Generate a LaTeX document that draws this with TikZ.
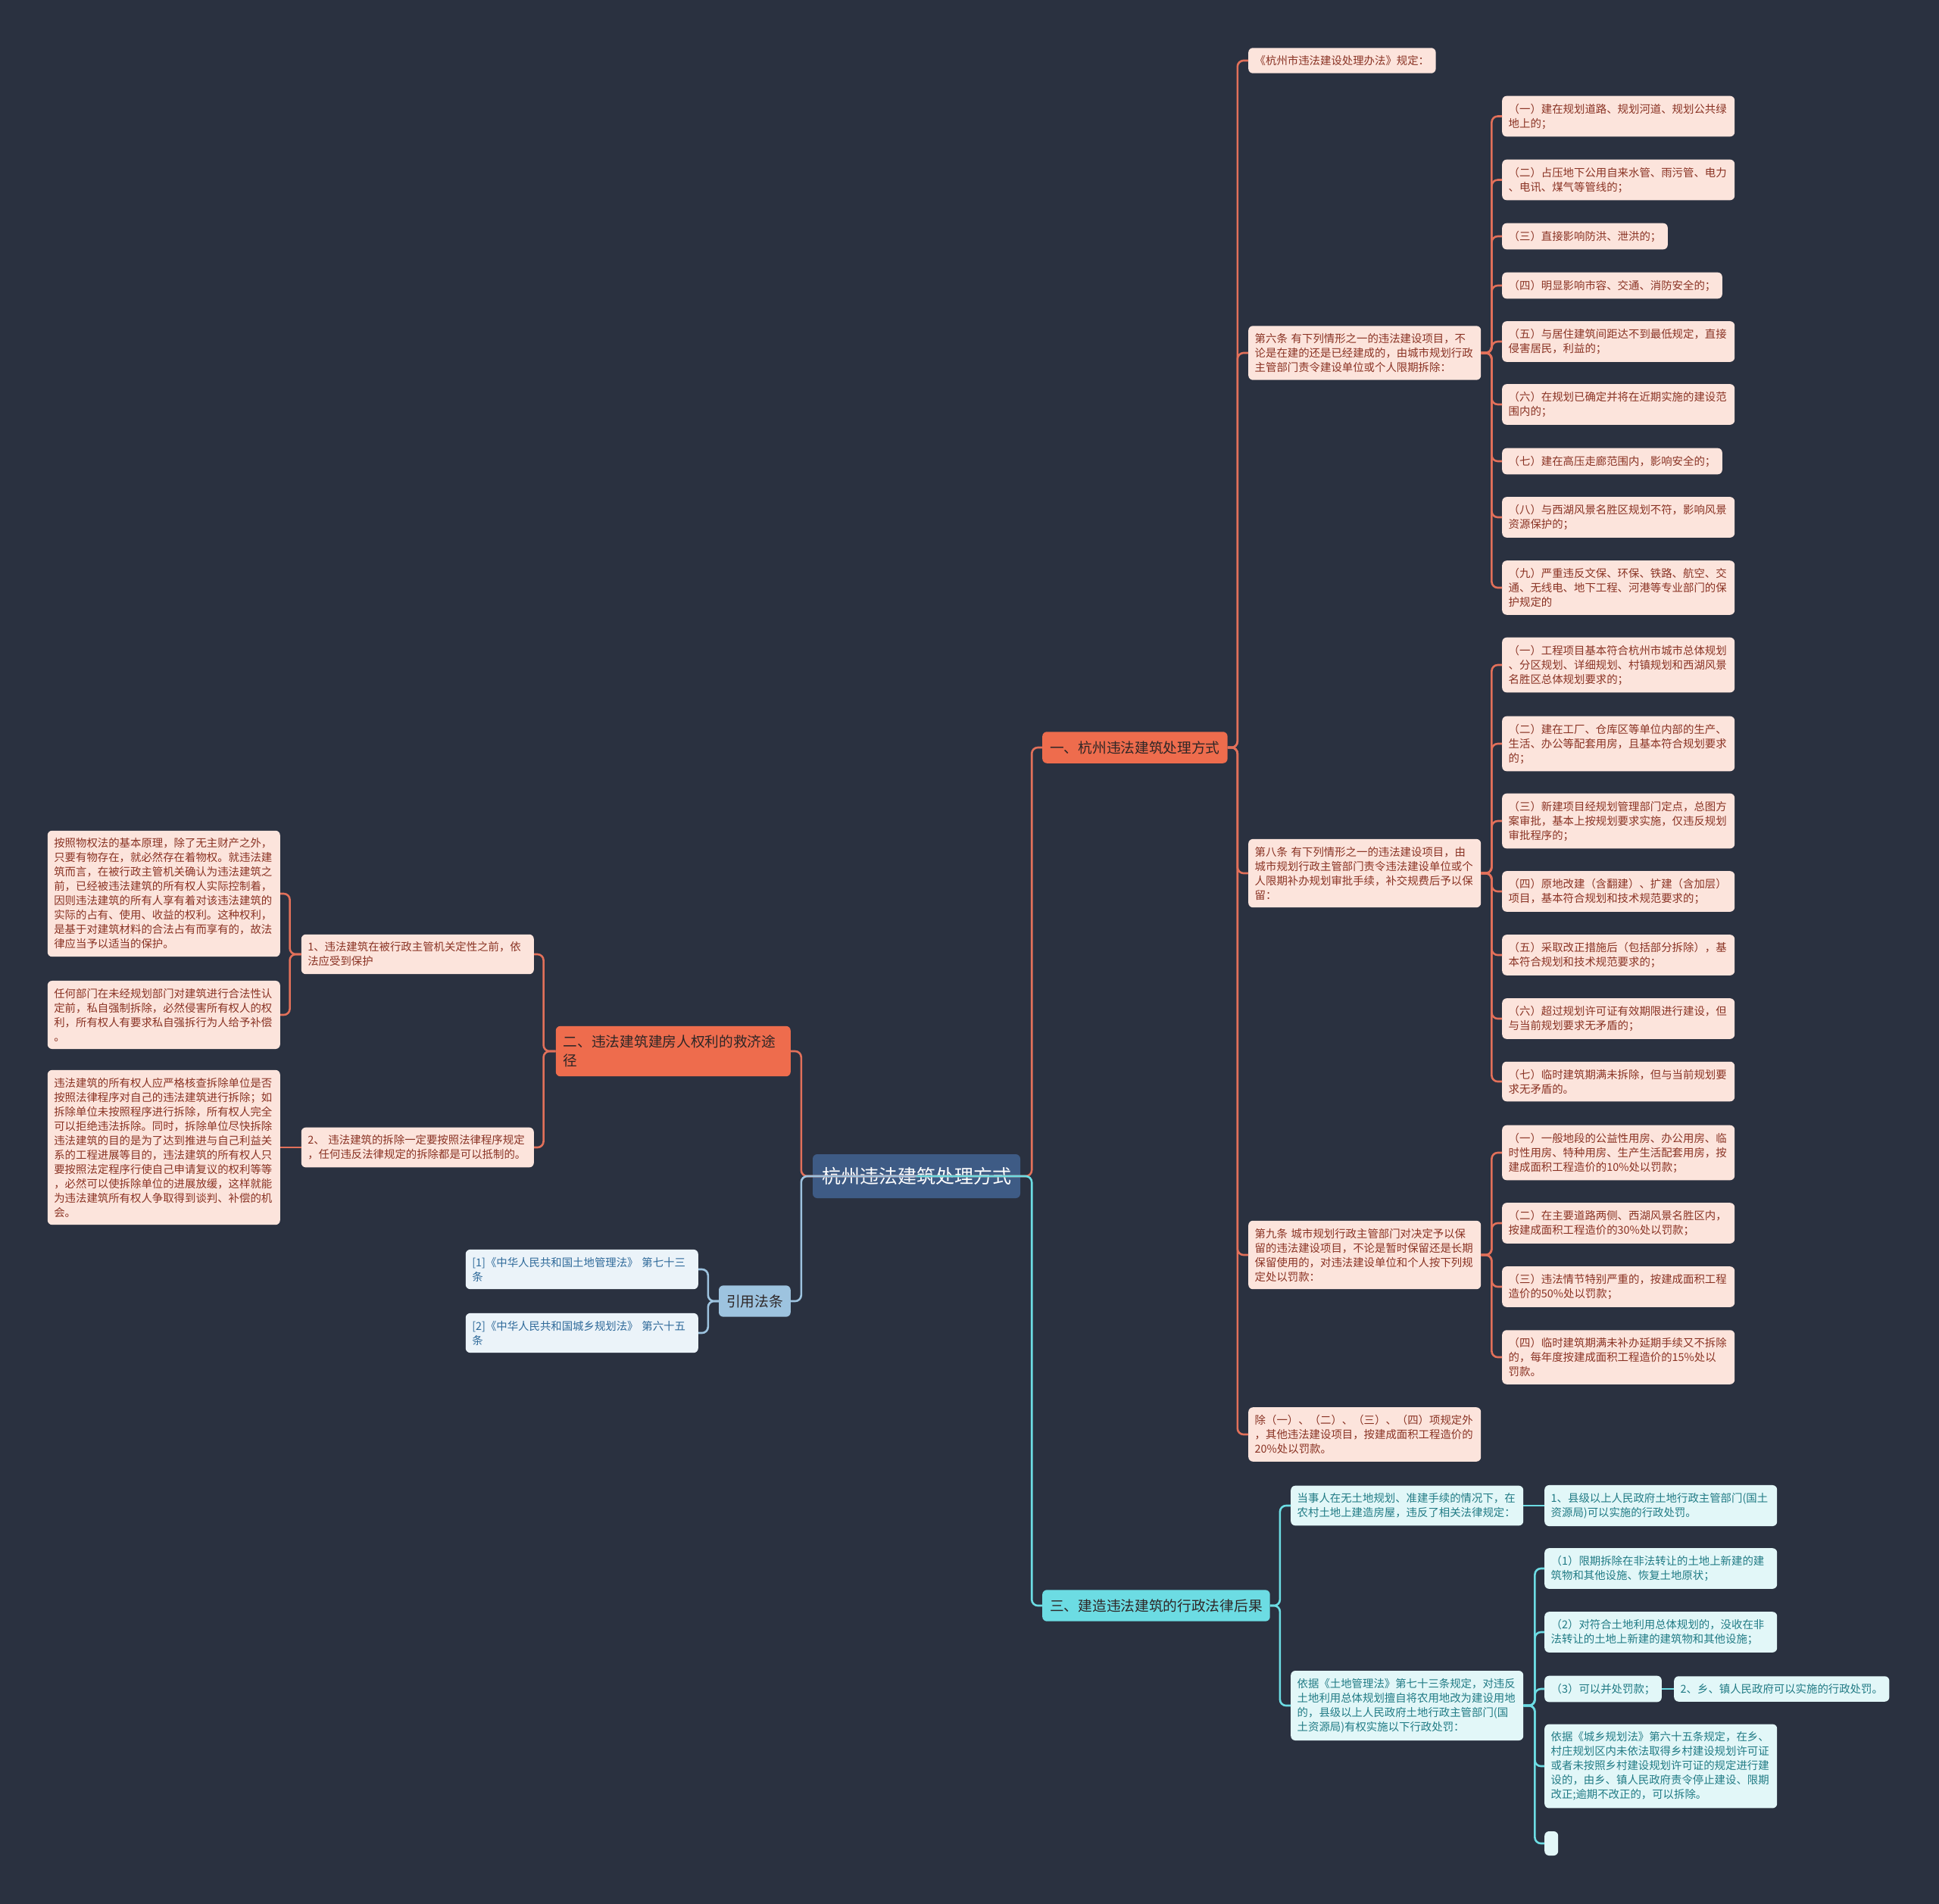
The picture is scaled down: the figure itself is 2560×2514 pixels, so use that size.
\documentclass[tikz,border=0pt]{standalone}
\usepackage{fontspec}
\setmainfont{Noto Sans CJK SC}
\definecolor{night}{HTML}{2A3140}
\definecolor{slate}{HTML}{3E5B85}
\definecolor{coral}{HTML}{EE6C4D}
\definecolor{blush}{HTML}{FCE4DC}
\definecolor{rust}{HTML}{8A3324}
\definecolor{ember}{HTML}{E2705A}
\definecolor{aqua}{HTML}{6CDCE3}
\definecolor{frost}{HTML}{E2F7F8}
\definecolor{lagoon}{HTML}{217B85}
\definecolor{sky}{HTML}{9DC3DF}
\definecolor{mist}{HTML}{EBF3F9}
\definecolor{ocean}{HTML}{2F6A9A}
\definecolor{soot}{HTML}{2E2626}

\begin{document}
\begin{tikzpicture}[x=1pt,y=-1pt,
  box/.style={rounded corners=6pt,inner xsep=8.5pt,inner ysep=10pt,align=left,font=\fontsize{14.4}{19}\selectfont},
  head/.style={rounded corners=6pt,inner xsep=10pt,inner ysep=12pt,align=left,text=soot,font=\fontsize{18.7}{25}\selectfont},
  wide/.style={text width=290pt},
  oleaf/.style={box,fill=blush,text=rust},
  cleaf/.style={box,fill=frost,text=lagoon},
  bleaf/.style={box,fill=mist,text=ocean},
  oline/.style={draw=ember,line width=2.6pt,rounded corners=8pt},
  cline/.style={draw=aqua,line width=2.6pt,rounded corners=8pt},
  bline/.style={draw=sky,line width=2.6pt,rounded corners=8pt}]
  \fill[night] (0,0) rectangle (2560,2514);

  % centre and main branches
  \node[fill=slate,text=white,rounded corners=6pt,inner xsep=12pt,minimum height=58pt,font=\fontsize{25}{30}\selectfont] (root) at (1210,1553) {杭州违法建筑处理方式};
  \node[head,fill=coral,anchor=west] (one) at (1376,987) {一、杭州违法建筑处理方式};
  \node[head,fill=aqua,anchor=west] (three) at (1376,2120) {三、建造违法建筑的行政法律后果};
  \node[head,fill=coral,anchor=east,text width=290pt] (two) at (1044,1388) {二、违法建筑建房人权利的救济途\\径};
  \node[head,fill=sky,anchor=east] (cite) at (1044,1718) {引用法条};

  % branch one
  \node[oleaf,anchor=west] (law) at (1648,80) {《杭州市违法建设处理办法》规定：};
  \node[oleaf,wide,anchor=west] (art6) at (1648,466) {第六条~有下列情形之一的违法建设项目，不\\论是在建的还是已经建成的，由城市规划行政\\主管部门责令建设单位或个人限期拆除：};
  \node[oleaf,wide,anchor=west] (art8) at (1648,1153) {第八条~有下列情形之一的违法建设项目，由\\城市规划行政主管部门责令违法建设单位或个\\人限期补办规划审批手续，补交规费后予以保\\留：};
  \node[oleaf,wide,anchor=west] (art9) at (1648,1657) {第九条~城市规划行政主管部门对决定予以保\\留的违法建设项目，不论是暂时保留还是长期\\保留使用的，对违法建设单位和个人按下列规\\定处以罚款：};
  \node[oleaf,wide,anchor=west] (rest) at (1648,1894) {除（一）、（二）、（三）、（四）项规定外\\，其他违法建设项目，按建成面积工程造价的\\20\%处以罚款。};

  \node[oleaf,wide,anchor=west] (s1) at (1983,153.5) {（一）建在规划道路、规划河道、规划公共绿\\地上的；};
  \node[oleaf,wide,anchor=west] (s2) at (1983,237.5) {（二）占压地下公用自来水管、雨污管、电力\\、电讯、煤气等管线的；};
  \node[oleaf,anchor=west] (s3) at (1983,312) {（三）直接影响防洪、泄洪的；};
  \node[oleaf,anchor=west] (s4) at (1983,377) {（四）明显影响市容、交通、消防安全的；};
  \node[oleaf,wide,anchor=west] (s5) at (1983,451) {（五）与居住建筑间距达不到最低规定，直接\\侵害居民，利益的；};
  \node[oleaf,wide,anchor=west] (s6) at (1983,534) {（六）在规划已确定并将在近期实施的建设范\\围内的；};
  \node[oleaf,anchor=west] (s7) at (1983,609) {（七）建在高压走廊范围内，影响安全的；};
  \node[oleaf,wide,anchor=west] (s8) at (1983,683) {（八）与西湖风景名胜区规划不符，影响风景\\资源保护的；};
  \node[oleaf,wide,anchor=west] (s9) at (1983,776) {（九）严重违反文保、环保、铁路、航空、交\\通、无线电、地下工程、河港等专业部门的保\\护规定的};

  \node[oleaf,wide,anchor=west] (e1) at (1983,878) {（一）工程项目基本符合杭州市城市总体规划\\、分区规划、详细规划、村镇规划和西湖风景\\名胜区总体规划要求的；};
  \node[oleaf,wide,anchor=west] (e2) at (1983,982) {（二）建在工厂、仓库区等单位内部的生产、\\生活、办公等配套用房，且基本符合规划要求\\的；};
  \node[oleaf,wide,anchor=west] (e3) at (1983,1084) {（三）新建项目经规划管理部门定点，总图方\\案审批，基本上按规划要求实施，仅违反规划\\审批程序的；};
  \node[oleaf,wide,anchor=west] (e4) at (1983,1177) {（四）原地改建（含翻建）、扩建（含加层）\\项目，基本符合规划和技术规范要求的；};
  \node[oleaf,wide,anchor=west] (e5) at (1983,1261) {（五）采取改正措施后（包括部分拆除），基\\本符合规划和技术规范要求的；};
  \node[oleaf,wide,anchor=west] (e6) at (1983,1345) {（六）超过规划许可证有效期限进行建设，但\\与当前规划要求无矛盾的；};
  \node[oleaf,wide,anchor=west] (e7) at (1983,1428) {（七）临时建筑期满未拆除，但与当前规划要\\求无矛盾的。};

  \node[oleaf,wide,anchor=west] (n1) at (1983,1522) {（一）一般地段的公益性用房、办公用房、临\\时性用房、特种用房、生产生活配套用房，按\\建成面积工程造价的10\%处以罚款；};
  \node[oleaf,wide,anchor=west] (n2) at (1983,1615) {（二）在主要道路两侧、西湖风景名胜区内，\\按建成面积工程造价的30\%处以罚款；};
  \node[oleaf,wide,anchor=west] (n3) at (1983,1699) {（三）违法情节特别严重的，按建成面积工程\\造价的50\%处以罚款；};
  \node[oleaf,wide,anchor=west] (n4) at (1983,1792) {（四）临时建筑期满未补办延期手续又不拆除\\的，每年度按建成面积工程造价的15\%处以\\罚款。};

  % branch three
  \node[cleaf,wide,anchor=west] (party) at (1704,1988) {当事人在无土地规划、准建手续的情况下，在\\农村土地上建造房屋，违反了相关法律规定：};
  \node[cleaf,wide,anchor=west] (county) at (2039,1988) {1、县级以上人民政府土地行政主管部门(国土\\资源局)可以实施的行政处罚。};
  \node[cleaf,wide,anchor=west] (landlaw) at (1704,2252) {依据《土地管理法》第七十三条规定，对违反\\土地利用总体规划擅自将农用地改为建设用地\\的，县级以上人民政府土地行政主管部门(国\\土资源局)有权实施以下行政处罚：};
  \node[cleaf,wide,anchor=west] (p1) at (2039,2071) {（1）限期拆除在非法转让的土地上新建的建\\筑物和其他设施、恢复土地原状；};
  \node[cleaf,wide,anchor=west] (p2) at (2039,2155) {（2）对符合土地利用总体规划的，没收在非\\法转让的土地上新建的建筑物和其他设施；};
  \node[cleaf,anchor=west] (p3) at (2039,2230) {（3）可以并处罚款；};
  \node[cleaf,anchor=west] (town) at (2210,2230) {2、乡、镇人民政府可以实施的行政处罚。};
  \node[cleaf,wide,anchor=west] (rural) at (2039,2332) {依据《城乡规划法》第六十五条规定，在乡、\\村庄规划区内未依法取得乡村建设规划许可证\\或者未按照乡村建设规划许可证的规定进行建\\设的，由乡、镇人民政府责令停止建设、限期\\改正;逾期不改正的，可以拆除。};
  \node[cleaf,anchor=west,inner sep=0pt,minimum width=18pt,minimum height=32pt] (blank) at (2039,2434) {};

  % branch two
  \node[oleaf,wide,anchor=east] (unit) at (705,1260) {1、违法建筑在被行政主管机关定性之前，依\\法应受到保护};
  \node[oleaf,wide,anchor=east] (dem) at (705,1515) {2、~违法建筑的拆除一定要按照法律程序规定\\，任何违反法律规定的拆除都是可以抵制的。};
  \node[oleaf,wide,anchor=east] (prot) at (370,1180) {按照物权法的基本原理，除了无主财产之外，\\只要有物存在，就必然存在着物权。就违法建\\筑而言，在被行政主管机关确认为违法建筑之\\前，已经被违法建筑的所有权人实际控制着，\\因则违法建筑的所有人享有着对该违法建筑的\\实际的占有、使用、收益的权利。这种权利，\\是基于对建筑材料的合法占有而享有的，故法\\律应当予以适当的保护。};
  \node[oleaf,wide,anchor=east] (any) at (370,1340) {任何部门在未经规划部门对建筑进行合法性认\\定前，私自强制拆除，必然侵害所有权人的权\\利，所有权人有要求私自强拆行为人给予补偿\\。};
  \node[oleaf,wide,anchor=east] (own) at (370,1515) {违法建筑的所有权人应严格核查拆除单位是否\\按照法律程序对自己的违法建筑进行拆除；如\\拆除单位未按照程序进行拆除，所有权人完全\\可以拒绝违法拆除。同时，拆除单位尽快拆除\\违法建筑的目的是为了达到推进与自己利益关\\系的工程进展等目的，违法建筑的所有权人只\\要按照法定程序行使自己申请复议的权利等等\\，必然可以使拆除单位的进展放缓，这样就能\\为违法建筑所有权人争取得到谈判、补偿的机\\会。};

  % cited laws
  \node[bleaf,wide,anchor=east] (ref1) at (922,1676) {[1]《中华人民共和国土地管理法》~第七十三\\条};
  \node[bleaf,wide,anchor=east] (ref2) at (922,1760) {[2]《中华人民共和国城乡规划法》~第六十五\\条};

  % connectors
  \draw[oline] (root.center) -- (root.east) -- ++(15,0) |- (one.west); \draw[oline] (root.center) -- (root.west) -- ++(-15,0) |- (two.east);
  \draw[cline] (root.center) -- (root.east) -- ++(15,0) |- (three.west); \draw[bline] (root.center) -- (root.west) -- ++(-15,0) |- (cite.east);

  \draw[oline] (one.east) -- ++(13,0) |- (law.west); \draw[oline] (one.east) -- ++(13,0) |- (art6.west); \draw[oline] (one.east) -- ++(13,0) |- (art8.west);
  \draw[oline] (one.east) -- ++(13,0) |- (art9.west); \draw[oline] (one.east) -- ++(13,0) |- (rest.west);
  \draw[oline] (art6.east) -- ++(14,0) |- (s1.west); \draw[oline] (art6.east) -- ++(14,0) |- (s2.west); \draw[oline] (art6.east) -- ++(14,0) |- (s3.west);
  \draw[oline] (art6.east) -- ++(14,0) |- (s4.west); \draw[oline] (art6.east) -- ++(14,0) |- (s5.west); \draw[oline] (art6.east) -- ++(14,0) |- (s6.west);
  \draw[oline] (art6.east) -- ++(14,0) |- (s7.west); \draw[oline] (art6.east) -- ++(14,0) |- (s8.west); \draw[oline] (art6.east) -- ++(14,0) |- (s9.west);
  \draw[oline] (art8.east) -- ++(14,0) |- (e1.west); \draw[oline] (art8.east) -- ++(14,0) |- (e2.west); \draw[oline] (art8.east) -- ++(14,0) |- (e3.west);
  \draw[oline] (art8.east) -- ++(14,0) |- (e4.west); \draw[oline] (art8.east) -- ++(14,0) |- (e5.west); \draw[oline] (art8.east) -- ++(14,0) |- (e6.west);
  \draw[oline] (art8.east) -- ++(14,0) |- (e7.west);
  \draw[oline] (art9.east) -- ++(14,0) |- (n1.west); \draw[oline] (art9.east) -- ++(14,0) |- (n2.west); \draw[oline] (art9.east) -- ++(14,0) |- (n3.west);
  \draw[oline] (art9.east) -- ++(14,0) |- (n4.west);

  \draw[cline] (three.east) -- ++(13,0) |- (party.west); \draw[cline] (three.east) -- ++(13,0) |- (landlaw.west);
  \draw[cline] (party.east) -- (county.west); \draw[cline] (p3.east) -- (town.west);
  \draw[cline] (landlaw.east) -- ++(15,0) |- (p1.west); \draw[cline] (landlaw.east) -- ++(15,0) |- (p2.west); \draw[cline] (landlaw.east) -- ++(15,0) |- (p3.west);
  \draw[cline] (landlaw.east) -- ++(15,0) |- (rural.west); \draw[cline] (landlaw.east) -- ++(15,0) |- (blank.west);

  \draw[oline] (two.west) -- ++(-16,0) |- (unit.east); \draw[oline] (two.west) -- ++(-16,0) |- (dem.east);
  \draw[oline] (unit.west) -- ++(-15,0) |- (prot.east); \draw[oline] (unit.west) -- ++(-15,0) |- (any.east);
  \draw[oline] (dem.west) -- (own.east);
  \draw[bline] (cite.west) -- ++(-14,0) |- (ref1.east); \draw[bline] (cite.west) -- ++(-14,0) |- (ref2.east);
\end{tikzpicture}
\end{document}
